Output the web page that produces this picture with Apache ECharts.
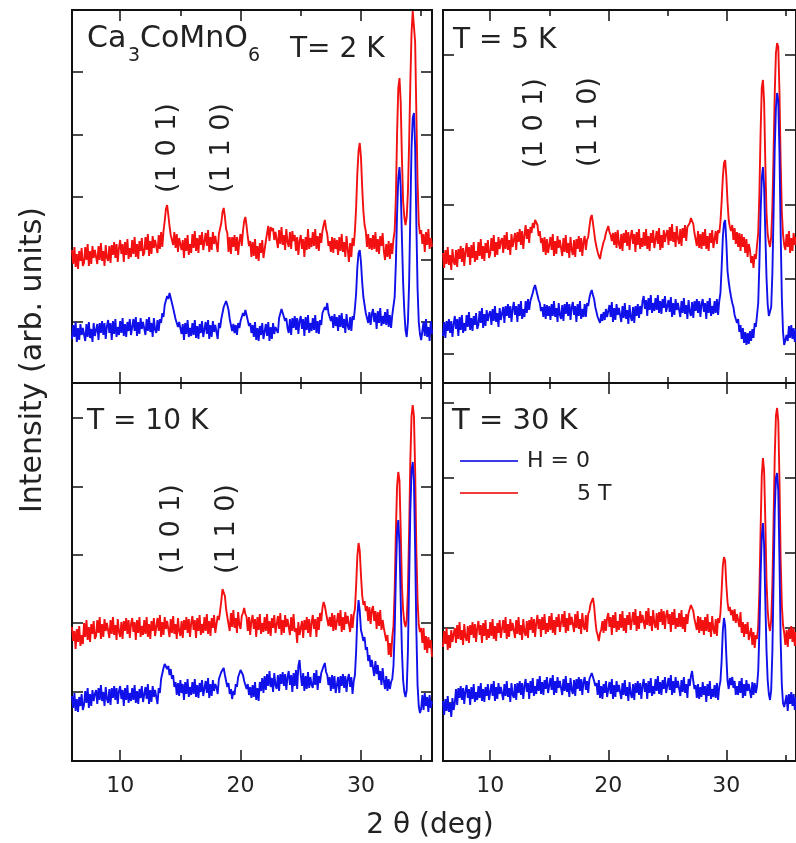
<!DOCTYPE html>
<html>
<head>
<meta charset="utf-8">
<script src="https://cdn.jsdelivr.net/npm/echarts@6/dist/echarts.min.js"></script>
<style>
html, body { margin: 0; padding: 0; background: #fff; }
#chart { width: 796px; height: 843px; }
</style>
</head>
<body>
<div id="chart"></div>
<script>
// 2theta sampling of the scans (deg)
var angleStart = 6.0, angleStep = 0.1;

// intensity (arb. units), one row per degree: 6.x, 7.x ... 35.x
var red2K = [
133,119,136,116,129,114,132,122,135,117,
120,136,123,139,117,132,119,137,125,133,
134,119,137,123,140,122,132,117,138,125,
122,137,120,138,128,141,125,139,121,135,
143,129,139,121,141,128,144,124,135,126,
143,129,146,126,139,124,142,132,145,127,
130,146,133,149,127,142,129,147,135,143,
145,130,148,134,151,136,152,162,174,178,
168,157,148,150,138,151,135,149,131,145,
147,133,143,125,145,132,148,128,139,130,
149,135,152,132,145,130,148,138,151,133,
134,150,137,153,131,146,133,151,139,147,
146,131,149,150,160,171,175,166,154,150,
131,146,129,146,136,148,132,146,128,142,
149,137,152,162,166,157,146,137,142,126,
141,127,144,124,137,122,140,130,143,125,
126,142,141,157,142,156,152,155,143,151,
150,135,153,139,156,138,148,133,154,141,
136,151,134,152,142,148,132,146,128,142,
148,134,144,126,146,133,154,134,145,136,
151,137,154,134,147,132,150,140,152,158,
163,154,149,137,142,131,146,130,145,134,
143,128,146,132,149,131,141,126,147,134,
121,140,126,145,137,152,176,210,232,240,
226,196,172,158,152,136,149,134,145,133,
148,134,151,131,144,129,147,137,150,132,
123,139,126,142,124,140,129,144,152,186,
250,295,305,281,226,182,166,158,166,191,
240,300,350,372,370,341,270,201,160,149,
153,139,149,131,151,138,154,134,145,136
];
var blue2K = [
44,58,46,61,41,55,43,59,48,55,
56,42,59,46,61,45,54,41,60,47,
45,59,43,60,50,62,48,60,44,57,
63,50,60,43,62,49,64,46,56,48,
62,50,65,47,59,46,61,52,64,48,
50,64,52,66,47,61,49,65,54,61,
62,48,64,52,66,51,60,46,65,53,
50,63,52,64,60,70,66,78,77,87,
84,90,85,83,75,74,64,66,56,61,
62,49,59,43,60,49,63,46,55,47,
60,48,63,45,57,44,59,50,62,46,
47,61,49,63,44,58,46,62,51,58,
58,44,60,55,64,66,76,77,82,78,
73,64,63,52,59,50,58,48,60,55,
62,61,70,67,73,68,67,57,60,50,
58,46,61,43,55,42,57,48,60,44,
45,59,47,61,42,56,44,60,49,56,
56,50,65,63,74,70,69,62,65,55,
50,64,48,65,55,67,53,65,49,62,
67,54,64,47,66,53,68,50,60,52,
65,53,68,50,62,49,63,58,70,68,
76,73,80,70,71,62,67,55,69,57,
66,52,68,56,70,55,64,50,69,57,
53,66,52,67,63,75,90,116,130,133,
121,101,86,78,70,72,60,71,58,69,
74,61,70,54,72,60,75,57,67,59,
71,58,74,56,68,55,68,69,86,120,
170,205,216,196,146,101,72,53,46,61,
100,170,235,265,270,236,160,95,61,49,
43,44,61,47,64,46,56,42,62,49
];
var red5K = [
130,115,133,119,136,118,128,113,134,121,
118,133,116,134,124,137,121,135,117,131,
140,126,136,118,138,125,141,121,132,123,
141,127,144,124,137,122,140,130,143,125,
129,145,132,148,126,141,128,146,134,142,
145,130,148,134,151,133,143,128,149,136,
135,150,133,151,141,154,138,152,134,148,
158,144,154,140,156,150,160,155,163,161,
158,147,152,140,145,131,146,128,144,130,
130,146,133,149,127,142,129,147,135,143,
142,127,145,131,148,130,140,125,146,133,
128,143,126,144,134,147,131,145,127,141,
147,133,143,146,156,165,168,160,151,142,
136,131,127,124,131,136,141,144,150,152,
157,151,148,142,150,138,151,135,153,139,
134,149,132,150,140,153,137,151,133,147,
153,139,149,131,151,138,154,134,145,136,
151,137,154,134,147,132,150,140,153,135,
136,152,139,155,133,148,135,153,141,149,
153,138,156,142,159,141,151,136,157,144,
139,154,137,155,145,158,142,156,154,160,
165,166,159,150,149,137,152,135,149,134,
151,137,154,134,147,132,150,140,153,135,
136,152,139,153,150,161,181,205,220,223,
206,181,163,156,152,158,143,155,139,151,
136,150,132,149,136,146,130,144,126,139,
133,120,127,115,129,124,138,150,190,250,
295,303,281,221,171,149,141,136,146,176,
230,290,330,340,336,291,221,171,149,138,
133,149,136,152,130,145,132,150,138,146
];
var blue5K = [
47,61,45,62,52,64,50,62,46,59,
67,54,64,47,66,53,68,50,60,52,
68,56,71,53,65,52,67,58,70,54,
58,72,60,75,55,69,57,73,62,69,
72,58,74,62,77,61,70,56,75,63,
62,76,60,77,67,79,65,77,61,74,
81,68,77,61,79,67,82,64,74,66,
82,70,84,73,82,84,90,95,98,93,
88,83,80,72,76,66,79,64,78,67,
77,63,79,67,82,66,75,61,80,68,
64,78,62,79,69,81,67,79,63,76,
81,68,77,61,79,67,82,64,74,66,
79,66,80,77,85,90,93,88,84,76,
74,66,68,60,69,62,71,63,74,66,
64,78,66,81,61,75,63,79,68,75,
75,61,77,65,80,64,73,59,78,66,
62,76,60,77,67,79,65,77,69,82,
87,74,83,67,85,73,88,70,80,72,
85,73,88,70,82,69,84,75,87,71,
69,83,71,86,66,80,68,84,73,80,
80,66,82,70,85,69,78,64,83,71,
67,81,65,82,72,84,70,82,66,79,
84,71,80,64,82,70,85,67,77,69,
82,70,84,68,82,90,115,145,160,163,
141,112,101,93,86,80,76,68,67,60,
64,51,58,44,55,40,51,38,50,39,
52,42,54,45,60,56,68,80,120,170,
205,216,196,151,106,79,67,65,76,110,
170,235,275,290,282,231,151,86,51,38,
36,48,42,57,45,58,44,55,41,54
];
var red10K = [
134,120,130,112,132,119,135,115,126,117,
138,124,141,121,134,119,137,127,140,122,
125,141,128,144,122,137,124,142,130,138,
138,123,141,127,144,126,136,121,142,129,
124,139,122,140,130,143,127,141,123,137,
143,129,139,121,141,128,144,124,135,126,
141,127,144,124,137,122,140,130,143,125,
127,143,130,146,124,139,126,144,132,140,
139,124,142,128,145,127,137,122,143,130,
125,140,123,141,131,144,128,142,124,138,
145,131,141,123,143,130,146,126,137,128,
144,130,147,127,140,125,143,133,146,128,
130,145,141,150,160,172,174,165,152,144,
145,130,148,134,151,133,143,128,149,136,
132,145,148,153,147,144,130,144,126,140,
146,132,142,124,144,131,147,127,138,129,
144,130,147,127,140,125,143,133,146,128,
129,145,132,148,126,141,128,146,134,142,
141,126,144,130,147,129,133,118,139,126,
125,140,123,141,131,144,128,142,124,138,
146,132,142,124,144,131,148,140,153,159,
155,148,147,135,144,134,148,130,146,131,
132,148,135,151,129,144,131,149,137,145,
144,129,147,133,146,152,176,205,218,210,
186,166,156,160,150,155,140,154,137,151,
155,140,150,132,149,135,151,131,141,133,
135,120,126,106,118,104,124,135,170,230,
275,289,280,231,176,151,139,134,141,171,
230,300,345,356,345,291,211,161,136,129,
133,118,133,111,125,108,124,113,121,104
];
var blue10K = [
65,53,68,50,62,49,64,55,67,51,
56,70,58,73,53,67,55,71,60,67,
71,57,73,61,76,60,69,55,74,62,
58,72,56,73,63,75,61,73,57,70,
75,62,71,55,73,61,76,58,68,60,
73,61,76,58,70,57,72,63,75,59,
60,74,62,77,57,71,59,75,64,71,
71,57,73,68,82,80,93,97,99,92,
95,86,92,82,86,74,79,66,78,65,
81,68,77,61,79,67,82,64,74,66,
79,67,82,64,76,63,78,69,81,65,
66,80,68,83,63,77,65,81,70,77,
74,67,82,80,89,88,93,86,84,74,
78,67,72,62,70,66,77,74,84,85,
91,89,86,80,82,72,77,66,74,63,
76,64,79,61,73,60,79,70,83,68,
85,71,87,75,90,74,83,69,88,76,
72,86,70,87,77,89,75,87,71,84,
90,76,86,69,88,75,91,72,95,101,
86,75,88,70,85,72,89,73,84,76,
73,88,76,91,71,85,78,88,90,95,
98,89,86,76,84,70,86,72,85,68,
70,84,68,85,75,87,73,85,69,82,
87,74,84,67,80,86,110,145,161,150,
131,126,120,124,111,114,100,106,94,101,
100,85,100,87,96,81,90,76,93,80,
72,85,70,82,72,79,82,95,130,185,
230,241,216,161,111,81,69,64,71,110,
180,250,290,299,280,211,131,76,55,48,
52,66,51,68,55,64,49,66,53,60
];
var red30K = [
114,130,117,133,111,126,113,131,119,127,
133,118,136,122,139,121,131,116,137,124,
120,135,118,136,126,139,123,137,119,133,
140,126,136,118,138,125,141,121,132,123,
139,125,142,122,135,120,138,128,141,123,
125,141,128,144,122,137,124,142,130,138,
138,123,141,127,144,126,136,121,142,129,
125,140,123,141,131,144,128,142,124,138,
146,132,142,124,144,131,147,127,138,129,
145,131,148,128,141,126,144,134,147,129,
131,147,134,150,128,143,130,148,136,144,
144,129,147,133,150,132,142,127,148,135,
131,146,129,147,150,157,160,163,155,141,
130,126,120,128,131,140,128,142,130,143,
148,134,144,126,146,133,149,129,140,131,
147,133,150,130,143,128,146,136,149,131,
133,149,136,152,130,145,132,150,138,146,
147,132,150,136,153,135,145,130,151,138,
133,148,131,149,139,152,136,150,132,146,
151,137,147,129,149,136,152,132,143,134,
148,134,151,132,144,129,147,137,148,146,
156,158,150,142,143,131,145,128,144,130,
141,126,144,130,147,129,139,124,145,132,
127,142,125,143,138,148,170,195,204,200,
176,159,150,154,146,151,140,152,138,147,
148,134,149,128,139,124,137,127,139,121,
120,133,116,129,113,126,122,135,170,230,
285,303,290,241,181,151,136,130,141,176,
240,305,345,353,340,281,201,156,136,128,
116,131,114,132,122,135,119,133,115,129
];
var blue30K = [
60,46,62,50,65,49,58,44,63,51,
58,72,56,73,63,75,61,73,57,70,
76,63,72,56,74,62,77,59,69,61,
75,63,78,60,72,59,74,65,77,61,
63,77,65,80,60,74,62,78,67,74,
75,61,77,65,80,64,73,59,78,66,
63,77,61,78,68,80,66,78,62,75,
82,69,78,62,80,68,83,65,75,67,
82,70,85,67,79,66,81,72,84,68,
69,83,71,86,66,80,68,84,73,80,
80,66,82,70,85,69,78,64,83,71,
67,81,65,82,72,84,70,82,66,79,
84,71,80,68,82,84,88,86,80,75,
78,66,81,63,75,62,77,68,80,64,
65,79,67,82,62,76,64,80,69,76,
76,62,78,66,81,65,74,60,79,67,
63,77,61,78,68,80,66,78,62,75,
82,69,78,62,80,68,83,65,75,67,
82,70,85,67,79,66,81,72,84,68,
69,83,71,86,66,80,68,84,73,80,
79,65,81,69,84,68,77,63,82,75,
85,90,80,72,76,63,77,62,74,64,
79,66,75,59,77,65,80,62,72,64,
76,63,78,61,74,80,100,130,143,135,
105,80,72,83,76,84,73,80,66,75,
66,80,68,83,63,77,65,81,70,77,
77,63,79,66,78,68,75,90,130,185,
225,238,215,161,111,81,67,61,71,110,
180,250,283,288,270,201,121,76,58,54,
52,66,50,67,57,69,55,67,51,64
];

var xMajor = [10, 20, 30];
var xMinor = [15, 25, 35];

var twoTheta = red2K.map(function (v, i) {
    return +(angleStart + i * angleStep).toFixed(1);
});
function pairs(arr) {
    return arr.map(function (v, i) { return [twoTheta[i], v]; });
}

var font = 'DejaVu Sans';
var RED = '#f21010';
var BLUE = '#1010ea';

// four panels
var panels = [
    { grid: { left: 72, top: 10, width: 360, height: 373 }, red: red2K, blue: blue2K, yMax: 373, yTicks: [61, 123, 186, 248, 311], labels: false },
    { grid: { left: 443, top: 10, width: 360, height: 373 }, red: red5K, blue: blue5K, yMax: 373, yTicks: [29, 104, 178, 253, 328], labels: false },
    { grid: { left: 72, top: 383, width: 360, height: 378 }, red: red10K, blue: blue10K, yMax: 378, yTicks: [69, 138, 206, 274, 343], labels: true },
    { grid: { left: 443, top: 383, width: 360, height: 378 }, red: red30K, blue: blue30K, yMax: 378, yTicks: [58, 133, 208, 283, 358], labels: true }
];

function xAx(g, pos, ticks, len, labels) {
    return {
        type: 'value', gridIndex: g, position: pos, min: 6, max: 35.9,
        axisLine: { show: false }, splitLine: { show: false },
        axisTick: { show: true, inside: true, length: len, customValues: ticks,
            lineStyle: { color: '#111', width: 1.5 } },
        axisLabel: labels ? { show: true, customValues: xMajor, fontSize: 22, fontFamily: font,
            color: '#222', margin: 14 } : { show: false }
    };
}
function yAx(g, pos, max, ticks) {
    return {
        type: 'value', gridIndex: g, position: pos, min: 0, max: max,
        axisLine: { show: false }, splitLine: { show: false }, axisLabel: { show: false },
        axisTick: { show: true, inside: true, length: 11, customValues: ticks,
            lineStyle: { color: '#111', width: 1.5 } }
    };
}

var grids = [], xAxes = [], yAxes = [], series = [];
panels.forEach(function (p, g) {
    grids.push(Object.assign({ show: true, borderColor: '#111', borderWidth: 2, containLabel: false }, p.grid));
    xAxes.push(xAx(g, 'bottom', xMajor, 11, p.labels));
    xAxes.push(xAx(g, 'bottom', xMinor, 6, false));
    xAxes.push(xAx(g, 'top', xMajor, 11, false));
    xAxes.push(xAx(g, 'top', xMinor, 6, false));
    yAxes.push(yAx(g, 'left', p.yMax, p.yTicks));
    yAxes.push(yAx(g, 'right', p.yMax, p.yTicks));
    [[p.red, RED, '5 T'], [p.blue, BLUE, 'H = 0']].forEach(function (s) {
        series.push({
            type: 'line', name: s[2], xAxisIndex: g * 4, yAxisIndex: g * 2,
            data: pairs(s[0]), showSymbol: false, clip: true,
            lineStyle: { color: s[1], width: 1.9 }, itemStyle: { color: s[1] }
        });
    });
});

function txt(x, y, text, size, opt) {
    opt = opt || {};
    return {
        type: 'text', x: x, y: y, rotation: opt.rot || 0, z: 10,
        style: { text: text, fill: '#222', font: size + 'px "' + font + '"',
            align: opt.align || 'left', verticalAlign: 'middle' }
    };
}
var V = Math.PI / 2;
var graphics = [
    txt(87, 39, 'Ca', 30), txt(128, 56, '3', 19), txt(140, 39, 'CoMnO', 30), txt(248, 56, '6', 19),
    txt(290, 50, 'T= 2 K', 28),
    txt(453, 41, 'T = 5 K', 28),
    txt(87, 422, 'T = 10 K', 28),
    txt(452, 421, 'T = 30 K', 29),
    txt(168, 148, '(1 0 1)', 27, { rot: V, align: 'center' }),
    txt(222, 148, '(1 1 0)', 27, { rot: V, align: 'center' }),
    txt(535, 123, '(1 0 1)', 27, { rot: V, align: 'center' }),
    txt(589, 122, '(1 1 0)', 27, { rot: V, align: 'center' }),
    txt(172, 529, '(1 0 1)', 27, { rot: V, align: 'center' }),
    txt(227, 529, '(1 1 0)', 27, { rot: V, align: 'center' }),
    { type: 'line', shape: { x1: 460, y1: 461, x2: 518, y2: 461 }, style: { stroke: '#3a3ae6', lineWidth: 2 }, z: 10 },
    txt(527, 461, 'H = 0', 22),
    { type: 'line', shape: { x1: 460, y1: 493, x2: 518, y2: 493 }, style: { stroke: '#f03c3c', lineWidth: 2 }, z: 10 },
    txt(577, 494, '5 T', 22),
    txt(430, 826, '2 \u03b8 (deg)', 28, { align: 'center' }),
    txt(33, 360, 'Intensity (arb. units)', 30, { rot: V, align: 'center' })
];

var chart = echarts.init(document.getElementById('chart'));
chart.setOption({
    animation: false,
    backgroundColor: '#fff',
    grid: grids,
    xAxis: xAxes,
    yAxis: yAxes,
    series: series,
    graphic: graphics
});
</script>
</body>
</html>
